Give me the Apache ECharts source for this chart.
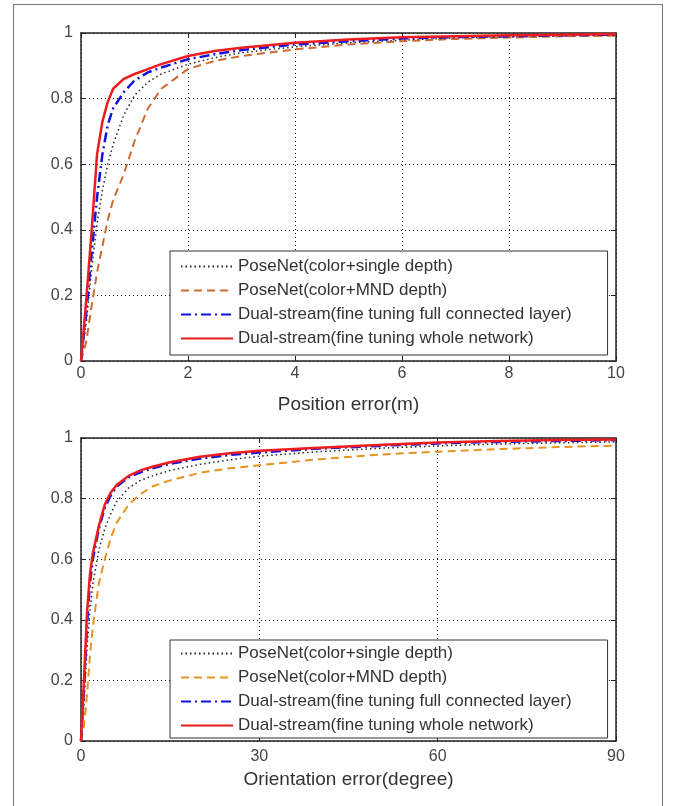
<!DOCTYPE html>
<html>
<head>
<meta charset="utf-8">
<script src="https://cdn.jsdelivr.net/npm/echarts@6/dist/echarts.min.js"></script>
<style>
html,body{margin:0;padding:0;background:#fff;width:673px;height:806px;overflow:hidden;}
#frame{position:absolute;left:13px;top:4px;width:650px;height:820px;border:1px solid #777;box-sizing:border-box;}
#c1{position:absolute;left:0;top:0;width:673px;height:420px;}
#c2{position:absolute;left:0;top:420px;width:673px;height:386px;}
</style>
</head>
<body>
<div id="frame"></div>
<div id="c1"></div>
<div id="c2"></div>
<script>
// ---------- data ----------
var seriesNames = [
  'PoseNet(color+single depth)',
  'PoseNet(color+MND depth)',
  'Dual-stream(fine tuning full connected layer)',
  'Dual-stream(fine tuning whole network)'
];
var yTicks = [0, 0.2, 0.4, 0.6, 0.8, 1];

// Position error (m)
var posX      = [0, 0.1, 0.2, 0.3, 0.4, 0.5, 0.6, 0.8, 1.0, 1.25, 1.5, 2, 2.5, 3, 4, 5, 6, 7, 8, 9, 10];
var posSingle = [0, 0.12, 0.28, 0.42, 0.52, 0.60, 0.66, 0.75, 0.81, 0.85, 0.875, 0.905, 0.925, 0.94, 0.958, 0.97, 0.978, 0.985, 0.988, 0.991, 0.993];
var posMND    = [0, 0.06, 0.17, 0.27, 0.35, 0.43, 0.49, 0.57, 0.67, 0.77, 0.83, 0.89, 0.915, 0.93, 0.95, 0.965, 0.975, 0.982, 0.986, 0.99, 0.992];
var posFC     = [0, 0.15, 0.33, 0.50, 0.63, 0.72, 0.77, 0.82, 0.855, 0.88, 0.895, 0.92, 0.935, 0.948, 0.965, 0.975, 0.983, 0.988, 0.99, 0.993, 0.995];
var posWhole  = [0, 0.19, 0.40, 0.63, 0.73, 0.79, 0.83, 0.86, 0.875, 0.89, 0.905, 0.93, 0.945, 0.955, 0.97, 0.98, 0.987, 0.99, 0.993, 0.995, 0.997];
var posXTicks = [0, 2, 4, 6, 8, 10];

// Orientation error (degree)
var oriX      = [0, 0.5, 1, 1.5, 2, 3, 4, 5, 6, 8, 10, 12, 15, 20, 25, 30, 40, 50, 60, 70, 80, 90];
var oriSingle = [0, 0.12, 0.30, 0.43, 0.52, 0.63, 0.70, 0.75, 0.79, 0.835, 0.86, 0.875, 0.893, 0.913, 0.928, 0.94, 0.955, 0.966, 0.974, 0.98, 0.984, 0.987];
var oriMND    = [0, 0.05, 0.15, 0.28, 0.38, 0.52, 0.60, 0.67, 0.72, 0.78, 0.815, 0.84, 0.86, 0.885, 0.90, 0.91, 0.93, 0.945, 0.955, 0.963, 0.97, 0.975];
var oriFC     = [0, 0.17, 0.38, 0.52, 0.60, 0.70, 0.77, 0.81, 0.84, 0.87, 0.887, 0.90, 0.915, 0.932, 0.944, 0.952, 0.965, 0.974, 0.982, 0.987, 0.99, 0.993];
var oriWhole  = [0, 0.20, 0.42, 0.55, 0.62, 0.71, 0.78, 0.82, 0.845, 0.875, 0.893, 0.905, 0.92, 0.938, 0.95, 0.958, 0.968, 0.977, 0.985, 0.99, 0.993, 0.995];
var oriXTicks = [0, 30, 60, 90];

// ---------- build ----------
function pairs(xs, ys){ return xs.map(function(x,i){ return [x, ys[i]]; }); }

function build(el, cfg){
  var chart = echarts.init(document.getElementById(el), null, {renderer:'canvas'});
  var font = 'Liberation Sans, Arial, sans-serif';
  var styles = [
    {color:'#1e2a22', width:1.5, type:[1.5,3]},
    {color:cfg.mndColor, width:2, type:[8,5]},
    {color:'#1212e0', width:2.5, type:[10,4,2,4]},
    {color:'#ee1c1c', width:2.5, type:'solid'}
  ];
  var ys = cfg.ys;
  var series = seriesNames.map(function(n,i){
    return {
      name:n, type:'line', xAxisIndex:0, yAxisIndex:0,
      data:pairs(cfg.xs, ys[i]), showSymbol:false, symbol:'none',
      lineStyle:styles[i], itemStyle:{color:styles[i].color}, z:2+i, animation:false
    };
  });
  var xmin = cfg.xTicks[0], xmax = cfg.xTicks[cfg.xTicks.length-1];
  var xint = cfg.xTicks[1]-cfg.xTicks[0];
  var splitDot = {show:true, lineStyle:{color:'#111', width:1, type:[1,3]}};
  var baseX = {type:'value', min:xmin, max:xmax, interval:xint, gridIndex:0};
  var baseY = {type:'value', min:yTicks[0], max:yTicks[yTicks.length-1], interval:yTicks[1]-yTicks[0], gridIndex:0};
  chart.setOption({
    animation:false,
    backgroundColor:'transparent',
    grid:{left:81, top:cfg.gridTop, width:535, height:cfg.gridH, show:false, containLabel:false, outerBoundsMode:'none'},
    legend:{
      orient:'vertical', left:170, top:cfg.legendTop,
      data:seriesNames, itemWidth:52, itemHeight:14, itemGap:7,
      padding:cfg.legendPad,
      borderColor:'#333', borderWidth:1, backgroundColor:'#fff', borderRadius:0,
      itemStyle:{opacity:0, borderWidth:0, color:'rgba(0,0,0,0)'},
      textStyle:{fontFamily:font, fontSize:17, lineHeight:17, color:'#333'},
      selectedMode:false
    },
    xAxis:[
      Object.assign({}, baseX, {
        position:'bottom',
        axisLine:{show:true, onZero:false, lineStyle:{color:'#222', width:1.5}},
        axisTick:{show:true, inside:true, length:5, lineStyle:{color:'#222'}},
        axisLabel:{color:'#444', fontFamily:font, fontSize:16, margin:cfg.xLabelMargin},
        splitLine:splitDot,
        name:cfg.xName, nameLocation:'middle', nameGap:cfg.nameGap,
        nameTextStyle:{color:'#333', fontFamily:font, fontSize:19}
      }),
      Object.assign({}, baseX, {
        position:'top',
        axisLine:{show:true, onZero:false, lineStyle:{color:'#222', width:1.5}},
        axisTick:{show:true, inside:true, length:5, lineStyle:{color:'#222'}},
        axisLabel:{show:false}, splitLine:{show:false}
      })
    ],
    yAxis:[
      Object.assign({}, baseY, {
        position:'left',
        axisLine:{show:true, onZero:false, lineStyle:{color:'#222', width:1.5}},
        axisTick:{show:true, inside:true, length:5, lineStyle:{color:'#222'}},
        axisLabel:{color:'#444', fontFamily:font, fontSize:16, margin:8,
          formatter:function(v){ return String(Math.round(v*10)/10); }},
        splitLine:splitDot
      }),
      Object.assign({}, baseY, {
        position:'right',
        axisLine:{show:true, onZero:false, lineStyle:{color:'#222', width:1.5}},
        axisTick:{show:true, inside:true, length:5, lineStyle:{color:'#222'}},
        axisLabel:{show:false}, splitLine:{show:false}
      })
    ],
    series:series
  });
  return chart;
}

build('c1', {
  xs:posX, ys:[posSingle, posMND, posFC, posWhole], xTicks:posXTicks,
  gridTop:33, gridH:328, legendTop:251, legendPad:[7,36,8,10], mndColor:'#cd6a32',
  xName:'Position error(m)', nameGap:34, xLabelMargin:5
});
build('c2', {
  xs:oriX, ys:[oriSingle, oriMND, oriFC, oriWhole], xTicks:oriXTicks,
  gridTop:18, gridH:303, legendTop:220, legendPad:[5,36,4,10], mndColor:'#e6941f',
  xName:'Orientation error(degree)', nameGap:26, xLabelMargin:8
});
</script>
</body>
</html>
